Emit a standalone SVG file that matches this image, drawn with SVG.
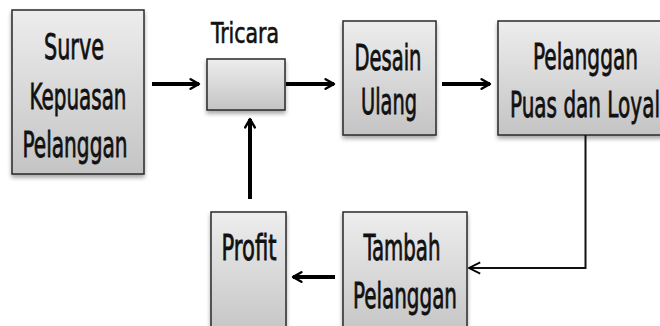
<svg xmlns="http://www.w3.org/2000/svg" width="660" height="326" viewBox="0 0 660 326">
<defs>
<linearGradient id="g" x1="0" y1="0" x2="0" y2="1">
<stop offset="0" stop-color="#ededed"/>
<stop offset="1" stop-color="#c4c4c4"/>
</linearGradient>
<filter id="sh" x="-10%" y="-10%" width="130%" height="130%">
<feGaussianBlur in="SourceAlpha" stdDeviation="2"/>
<feOffset dx="0" dy="3" result="b"/>
<feComponentTransfer><feFuncA type="linear" slope="0.35"/></feComponentTransfer>
<feMerge><feMergeNode/><feMergeNode in="SourceGraphic"/></feMerge>
</filter>
<marker id="ah" viewBox="0 0 10 10" refX="8" refY="5" markerWidth="3" markerHeight="3.4" orient="auto" markerUnits="strokeWidth">
<path d="M1,1 L8,5 L1,9" fill="none" stroke="#000" stroke-width="2" stroke-linecap="round" stroke-linejoin="round"/>
</marker>
<marker id="ahs" viewBox="0 0 10 10" refX="9" refY="5" markerWidth="7" markerHeight="8" orient="auto" markerUnits="strokeWidth">
<path d="M1,1 L9,5 L1,9" fill="none" stroke="#000" stroke-width="1.3"/>
</marker>
</defs>
<style>
.box{fill:url(#g);stroke:#2a2a2a;stroke-width:1.5;filter:url(#sh)}
.t{font-family:"DejaVu Sans Condensed","Liberation Sans Narrow","DejaVu Sans",sans-serif;font-size:36px;fill:#111;stroke:#111;stroke-width:0.8;text-anchor:middle}
.lbl{font-size:28px;stroke-width:0.6}
.a{stroke:#000;stroke-width:4;fill:none;marker-end:url(#ah)}
.thin{stroke:#111;stroke-width:2;fill:none}
</style>
<g id="surve">
<rect class="box" x="12" y="10" width="132" height="164"/>
<text class="t" x="74" y="59" textLength="60" lengthAdjust="spacingAndGlyphs">Surve</text>
<text class="t" x="78" y="109" textLength="97" lengthAdjust="spacingAndGlyphs">Kepuasan</text>
<text class="t" x="75" y="157" textLength="105" lengthAdjust="spacingAndGlyphs">Pelanggan</text>
</g>
<g id="tricara">
<rect class="box" x="207" y="59" width="78" height="51"/>
<text class="t lbl" x="245" y="43" textLength="68" lengthAdjust="spacingAndGlyphs">Tricara</text>
</g>
<g id="desain">
<rect class="box" x="343" y="21" width="93" height="114"/>
<text class="t" x="388" y="70" textLength="67" lengthAdjust="spacingAndGlyphs">Desain</text>
<text class="t" x="389" y="114" textLength="56" lengthAdjust="spacingAndGlyphs">Ulang</text>
</g>
<g id="pelanggan">
<rect class="box" x="498" y="21" width="176" height="114"/>
<text class="t" x="585.5" y="69" textLength="105" lengthAdjust="spacingAndGlyphs">Pelanggan</text>
<text class="t" x="585" y="117" textLength="150" lengthAdjust="spacingAndGlyphs">Puas dan Loyal</text>
</g>
<g id="tambah">
<rect class="box" x="343" y="212" width="124" height="125"/>
<text class="t" x="402" y="260" textLength="77" lengthAdjust="spacingAndGlyphs">Tambah</text>
<text class="t" x="405" y="308" textLength="104" lengthAdjust="spacingAndGlyphs">Pelanggan</text>
</g>
<g id="profit">
<rect class="box" x="211" y="212" width="75" height="125"/>
<text class="t" x="249" y="260" textLength="55" lengthAdjust="spacingAndGlyphs">Profit</text>
</g>
<g id="connectors">
<line class="a" x1="152" y1="84" x2="199" y2="84"/>
<line class="a" x1="286" y1="84" x2="334" y2="84"/>
<line class="a" x1="442" y1="84" x2="490" y2="84"/>
<line class="a" x1="250" y1="199" x2="250" y2="119"/>
<line class="a" x1="335" y1="277" x2="293" y2="277"/>
<polyline class="thin" points="585.5,135 585.5,268 469,268" marker-end="url(#ahs)"/>
</g>
</svg>
